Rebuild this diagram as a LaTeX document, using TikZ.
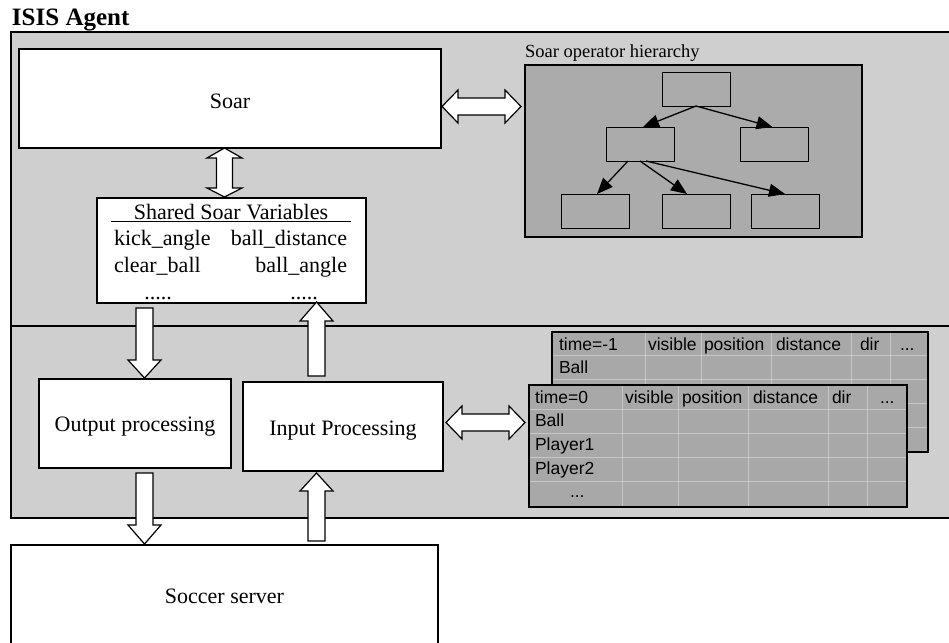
\documentclass[tikz,border=0pt]{standalone}
\usepackage{fontspec}
\setmainfont{Liberation Serif}
\newfontfamily\tablefont{Liberation Sans}
\usetikzlibrary{arrows.meta,calc}

\definecolor{panelgray}{gray}{0.81}
\definecolor{hiergray}{gray}{0.67}
\definecolor{tablegray}{gray}{0.66}

% block arrow, vertical: centre x, shaft half-width, head half-width,
% shaft end, head base, tip
\newcommand\blkarrowV[6]{%
  \draw[blockarrow] ({#1-#2},#4) -- ({#1+#2},#4) -- ({#1+#2},#5) -- ({#1+#3},#5)
    -- (#1,#6) -- ({#1-#3},#5) -- ({#1-#2},#5) -- cycle;}
% double block arrow, horizontal: centre y, shaft half, head half,
% left tip, left head base, right head base, right tip
\newcommand\dblarrowH[7]{%
  \draw[blockarrow] (#4,#1) -- (#5,{#1-#3}) -- (#5,{#1-#2}) -- (#6,{#1-#2})
    -- (#6,{#1-#3}) -- (#7,#1) -- (#6,{#1+#3}) -- (#6,{#1+#2}) -- (#5,{#1+#2})
    -- (#5,{#1+#3}) -- cycle;}
% double block arrow, vertical: centre x, shaft half, head half,
% top tip, top head base, bottom head base, bottom tip
\newcommand\dblarrowV[7]{%
  \draw[blockarrow] (#1,#4) -- ({#1+#3},#5) -- ({#1+#2},#5) -- ({#1+#2},#6)
    -- ({#1+#3},#6) -- (#1,#7) -- ({#1-#3},#6) -- ({#1-#2},#6) -- ({#1-#2},#5)
    -- ({#1-#3},#5) -- cycle;}

\tikzset{
  every node/.style={inner sep=0pt, outer sep=0pt},
  boxst/.style={draw=black, fill=white, line width=1.2pt},
  body/.style={font=\fontsize{22}{26}\selectfont, anchor=base},
  cell/.style={font=\tablefont\fontsize{17.5}{20}\selectfont, anchor=base west},
  blockarrow/.style={draw=black, fill=white, line width=1.2pt, line join=miter},
  opbox/.style={draw=black, line width=1pt, minimum width=68pt, minimum height=34pt},
  oparrow/.style={line width=1.3pt, -{Triangle[length=16pt,width=13pt]}},
  tablest/.style={draw=black, line width=2.6pt, fill=tablegray},
  gridline/.style={white, line width=0.7pt, opacity=0.35}
}

\begin{document}
\begin{tikzpicture}[x=1pt, y=-1pt]
\useasboundingbox (0,0) rectangle (949,642);
\clip (0,0) rectangle (949,642);
\fill[white] (0,0) rectangle (949,642);

% title
\node[font=\bfseries\fontsize{25}{28}\selectfont, anchor=base west] (title) at (12,26) {ISIS Agent};

% agent panel with its divider
\draw[fill=panelgray, line width=1.5pt] (11,32) rectangle (970,518);
\draw[line width=2.6pt] (11,326) -- (970,326);

% Soar and shared variables
\node[boxst, minimum width=422pt, minimum height=99pt] (soar) at (230,98.5) {};
\node[body] at (230,108) {Soar};

\node[boxst, minimum width=269pt, minimum height=105pt] (shared) at (231.5,250.5) {};
\node[body] (sharedhead) at (231,219) {Shared Soar Variables};
\draw[line width=0.9pt] (111,221.5) -- (351,221.5);
\node[body, anchor=base west] (v1) at (114,245) {kick\_angle};
\node[body, anchor=base east] (v2) at (347,245) {ball\_distance};
\node[body, anchor=base west] (v3) at (114,272) {clear\_ball};
\node[body, anchor=base east] (v4) at (347,272) {ball\_angle};
\node[body] (v5) at (158,299) {.....};
\node[body] (v6) at (304,299) {.....};

% Soar operator hierarchy
\node[font=\fontsize{18.5}{22}\selectfont, anchor=base west] (hierlabel) at (525,57) {Soar operator hierarchy};
\draw[fill=hiergray, line width=1.2pt] (525,65) rectangle (862,237);
\node[opbox] (op0) at (696,89) {};
\node[opbox] (op1) at (640,144) {};
\node[opbox] (op2) at (774.5,144) {};
\node[opbox] (op3) at (595,211) {};
\node[opbox] (op4) at (696,211) {};
\node[opbox] (op5) at (785,211) {};
\draw[oparrow] (op0.south) -- ([xshift=3pt]op1.north);
\draw[oparrow] (op0.south) -- ([xshift=-2pt]op2.north);
\draw[oparrow] ([xshift=-12pt]op1.south) -- ([xshift=2pt]op3.north);
\draw[oparrow] (op1.south) -- ([xshift=-9pt]op4.north);
\draw[oparrow] ([xshift=6pt]op1.south) -- (op5.north);

% processing boxes
\node[boxst, minimum width=192pt, minimum height=89pt] (outp) at (135,423.5) {};
\node[body] at (135,431) {Output processing};
\node[boxst, minimum width=200pt, minimum height=89pt] (inp) at (343,426.5) {};
\node[body] at (343,435) {Input Processing};

% perception tables
\draw[tablest] (552,332) rectangle (928,452);
\foreach \yy in {355,379,403,427} \draw[gridline] (553,\yy) -- (927,\yy);
\foreach \xx in {645,701,771,851,890} \draw[gridline] (\xx,333) -- (\xx,451);
\draw[tablest, fill=none] (552,332) rectangle (928,452);
\node[cell] (b0) at (559,350) {time=-1};
\node[cell] at (648,350) {visible};
\node[cell] at (704,350) {position};
\node[cell] at (776,350) {distance};
\node[cell] at (860,350) {dir};
\node[cell] at (900,350) {...};
\node[cell] at (559,373) {Ball};

\draw[tablest] (529,385) rectangle (907,507);
\foreach \yy in {409,433,457,481} \draw[gridline] (530,\yy) -- (906,\yy);
\foreach \xx in {622,678,748,828,867} \draw[gridline] (\xx,386) -- (\xx,506);
\draw[tablest, fill=none] (529,385) rectangle (907,507);
\node[cell] (f0) at (535,403) {time=0};
\node[cell] at (625,403) {visible};
\node[cell] at (682,403) {position};
\node[cell] at (753,403) {distance};
\node[cell] at (832,403) {dir};
\node[cell] at (880,403) {...};
\node[cell] at (535,426) {Ball};
\node[cell] at (535,450) {Player1};
\node[cell] at (535,474) {Player2};
\node[cell] at (570,497) {...};

% soccer server
\node[boxst, minimum width=427pt, minimum height=140pt, anchor=north west] (soccer) at (11,545) {};
\node[body] at (224.5,603) {Soccer server};

% block arrows
\dblarrowV{224.5}{8}{17.5}{148}{158}{188}{197}
\dblarrowH{106.5}{8.5}{16.5}{442}{458}{505}{521}
\dblarrowH{422.5}{8.5}{16.5}{446}{462}{509}{525}
\blkarrowV{144.5}{8.5}{16.5}{308}{360}{378}
\blkarrowV{316.5}{8.5}{16.5}{376}{321}{302}
\blkarrowV{144.5}{8.5}{16.5}{473}{525}{544}
\blkarrowV{316.5}{8.5}{16.5}{541}{491}{473}
\end{tikzpicture}
\end{document}
